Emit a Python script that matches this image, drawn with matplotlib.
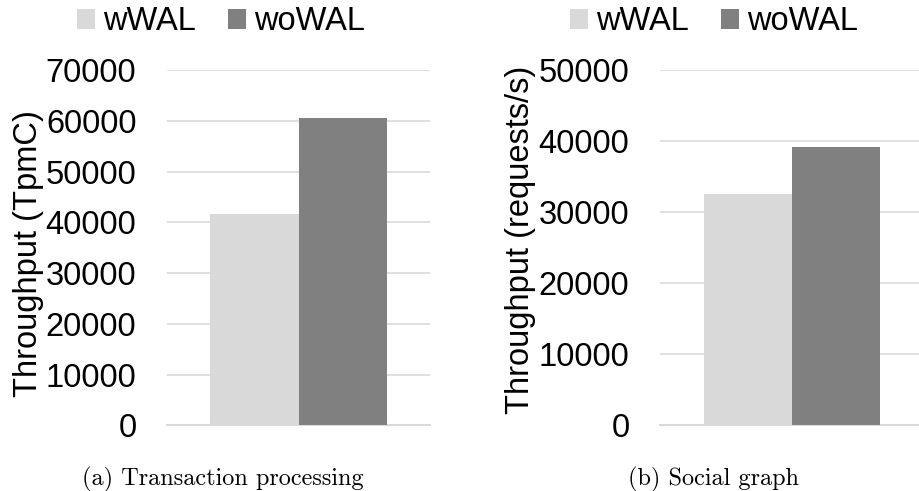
#!/usr/bin/env python3
"""two bar charts: throughput with and without WAL"""
import matplotlib
matplotlib.use('Agg')
import matplotlib.pyplot as plt
import numpy as np

series = ['wWAL', 'woWAL']
colors = ['#d9d9d9', '#808080']

tpcc = [41700, 60450]
social = [32600, 39100]

tpcc_ticks = np.arange(0, 70001, 10000)
social_ticks = np.arange(0, 50001, 10000)

plt.rcParams['font.family'] = ['Liberation Sans', 'DejaVu Sans']
FS = 23.5
W, H = 920, 491


def panel(ax, values, ticks):
    """one bar panel in the office-chart look"""
    w = 0.335
    xs = [-w / 2, w / 2]
    for x, v, c, lab in zip(xs, values, colors, series):
        ax.bar(x, v, width=w, color=c, label=lab, zorder=2)
    ax.set_xlim(-0.5, 0.5)
    ax.set_ylim(ticks[0], ticks[-1])
    ax.set_yticks(ticks)
    ax.set_xticks([])
    ax.tick_params(axis='y', length=0, pad=22, labelsize=FS)
    ax.yaxis.grid(True, color='#d9d9d9', linewidth=1.2, zorder=0)
    ax.set_axisbelow(True)
    for s in ax.spines.values():
        s.set_visible(False)
    ax.axhline(0, color='#d9d9d9', linewidth=1.5, zorder=1, clip_on=False)


fig = plt.figure(figsize=(W / 100, H / 100), dpi=100)
ax1 = fig.add_axes([167 / W, 1 - 425.3 / H, 263 / W, 355.3 / H])
ax2 = fig.add_axes([660 / W, 1 - 425.3 / H, 264 / W, 355.3 / H])

panel(ax1, tpcc, tpcc_ticks)
panel(ax2, social, social_ticks)

# y labels placed by their centres
fig.text(29 / W, 1 - 254 / H, 'Throughput (TpmC)', rotation=90,
         ha='center', va='center', fontsize=FS)
fig.text(521 / W, 1 - 240 / H, 'Throughput (requests/s)', rotation=90,
         ha='center', va='center', fontsize=FS)

for ax, cx in [(ax1, 221 / W), (ax2, 714 / W)]:
    ax.legend(loc='center', bbox_to_anchor=(cx, 1 - 22 / H),
              bbox_transform=fig.transFigure, ncol=2, frameon=False,
              fontsize=FS, handlelength=0.55, handleheight=0.55,
              handletextpad=0.25, columnspacing=1.0, borderaxespad=0)

fig.text(222.5 / W, 1 - 485 / H, '(a) Transaction processing',
         ha='center', va='baseline', fontsize=17.5, family='cmr10')
fig.text(714 / W, 1 - 485 / H, '(b) Social graph',
         ha='center', va='baseline', fontsize=17.5, family='cmr10')

fig.savefig('out.png', dpi=100)
